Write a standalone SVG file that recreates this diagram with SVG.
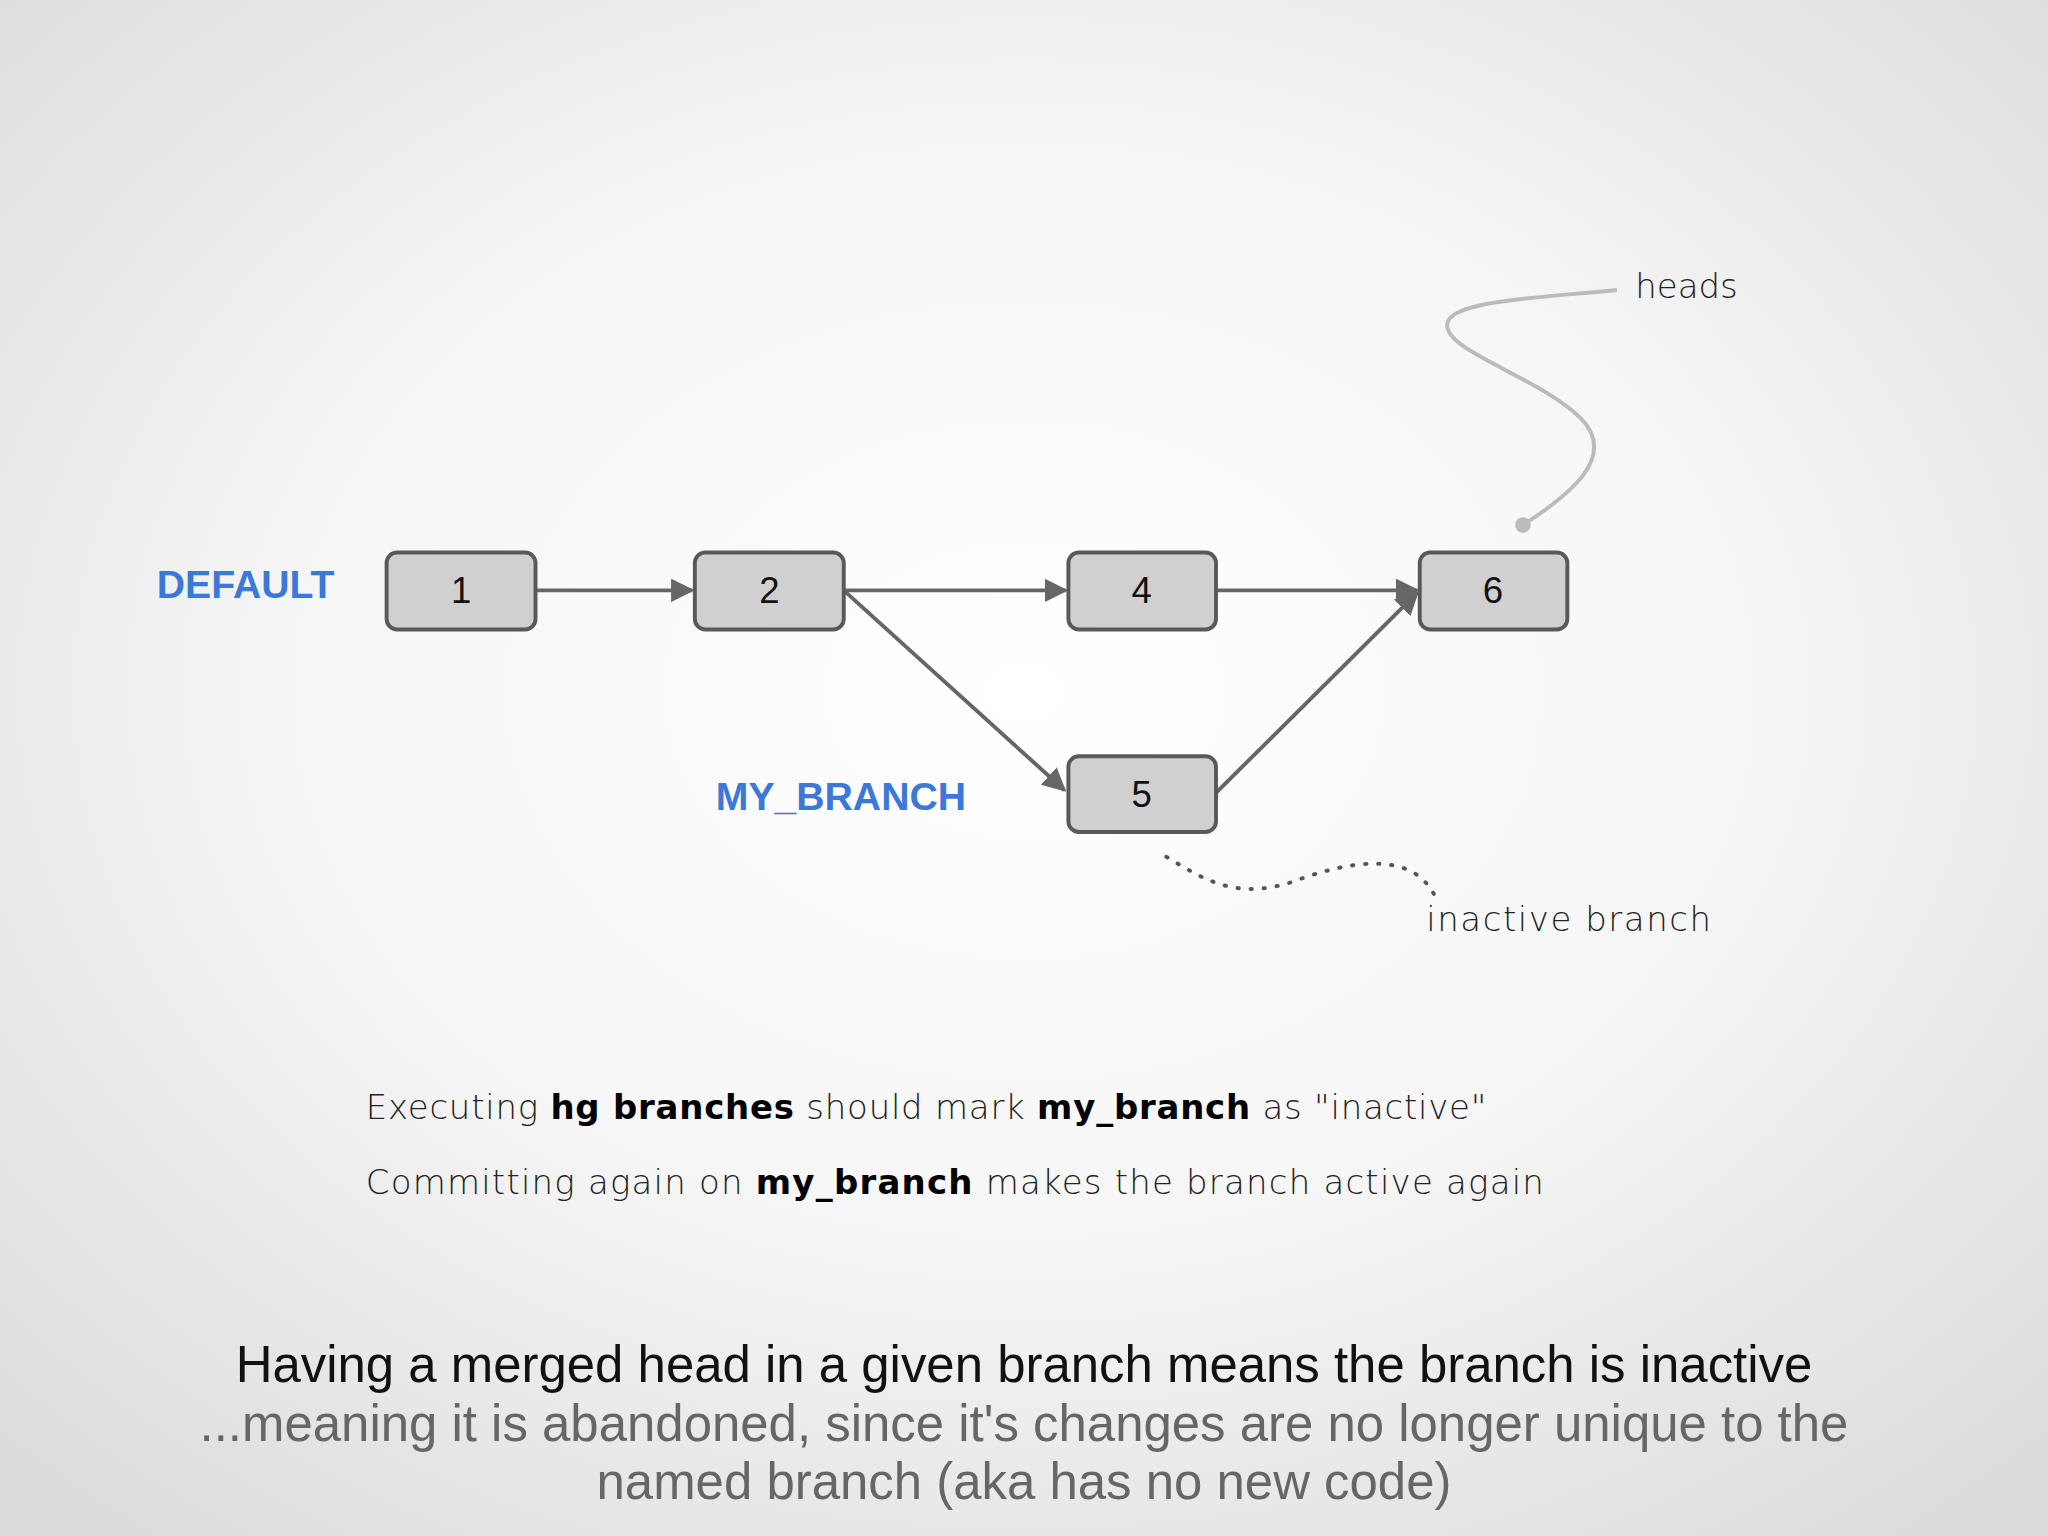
<svg xmlns="http://www.w3.org/2000/svg" width="2048" height="1536" viewBox="0 0 2048 1536">
<defs>
<radialGradient id="bg" cx="50%" cy="45%" r="70%"><stop offset="0" stop-color="#ffffff"/><stop offset="0.5" stop-color="#f6f6f6"/><stop offset="1" stop-color="#dcdcdc"/></radialGradient>
<marker id="ah" viewBox="0 0 10 10" refX="9" refY="5" markerWidth="6" markerHeight="6" orient="auto"><path d="M0,0L10,5L0,10z" fill="#666"/></marker>
<style>
.n rect{fill:#d0d0d0;stroke:#595959;stroke-width:3}
.n text{font-family:"Liberation Sans",Arial,sans-serif;font-size:28px;fill:#111;text-anchor:middle}
.c{stroke:#666;stroke-width:3;fill:none;marker-end:url(#ah)}
.lbl{font-family:"Liberation Sans",Arial,sans-serif;font-weight:bold;font-size:30px;fill:#3c78d8}
.hw{font-family:"DejaVu Sans",sans-serif;font-size:26px;fill:#222;font-weight:300}
.hb{font-weight:bold;fill:#000}
.bt{font-family:"Liberation Sans",Arial,sans-serif;font-size:39px;text-anchor:middle}
</style>
</defs>
<rect width="2048" height="1536" fill="url(#bg)"/>
<g transform="scale(1.30612)">
<g id="connectors">
<path class="c" d="M410,452H530"/>
<path class="c" d="M646,452H816"/>
<path class="c" d="M646,452L815,605"/>
<path class="c" d="M931,452H1085"/>
<path class="c" d="M931,607L1085,454"/>
<path d="M1166,402C1200,380 1240,350 1210,320C1180,290 1110,270 1108,250C1105,230 1180,228 1238,222" stroke="#bbb" stroke-width="3" fill="none"/>
<circle cx="1166" cy="402" r="6" fill="#bbb"/>
<path d="M893,656C920,672 945,690 990,675C1030,660 1080,650 1098,685" stroke="#555" stroke-width="3" fill="none" stroke-dasharray="1 9" stroke-linecap="round"/>
</g>
<g id="n1" class="n"><rect x="296" y="423" width="114" height="59" rx="8"/><text x="353" y="462">1</text></g>
<g id="n2" class="n"><rect x="532" y="423" width="114" height="59" rx="8"/><text x="589" y="462">2</text></g>
<g id="n4" class="n"><rect x="818" y="423" width="113" height="59" rx="8"/><text x="874" y="462">4</text></g>
<g id="n5" class="n"><rect x="818" y="579" width="113" height="58" rx="8"/><text x="874" y="618">5</text></g>
<g id="n6" class="n"><rect x="1087" y="423" width="113" height="59" rx="8"/><text x="1143" y="462">6</text></g>
<text class="lbl" x="120" y="458">DEFAULT</text>
<text class="lbl" x="548" y="620">MY_BRANCH</text>
<text class="hw" x="1252" y="228">heads</text>
<text class="hw" x="1092" y="713" textLength="218">inactive branch</text>
<text class="hw" x="280" y="857" textLength="858">Executing <tspan class="hb">hg branches</tspan> should mark <tspan class="hb">my_branch</tspan> as "inactive"</text>
<text class="hw" x="280" y="914" textLength="902">Committing again on <tspan class="hb">my_branch</tspan> makes the branch active again</text>
<text class="bt" x="784" y="1058" fill="#111">Having a merged head in a given branch means the branch is inactive</text>
<text class="bt" x="784" y="1103" fill="#666">...meaning it is abandoned, since it's changes are no longer unique to the</text>
<text class="bt" x="784" y="1148" fill="#666">named branch (aka has no new code)</text>
</g>
</svg>
